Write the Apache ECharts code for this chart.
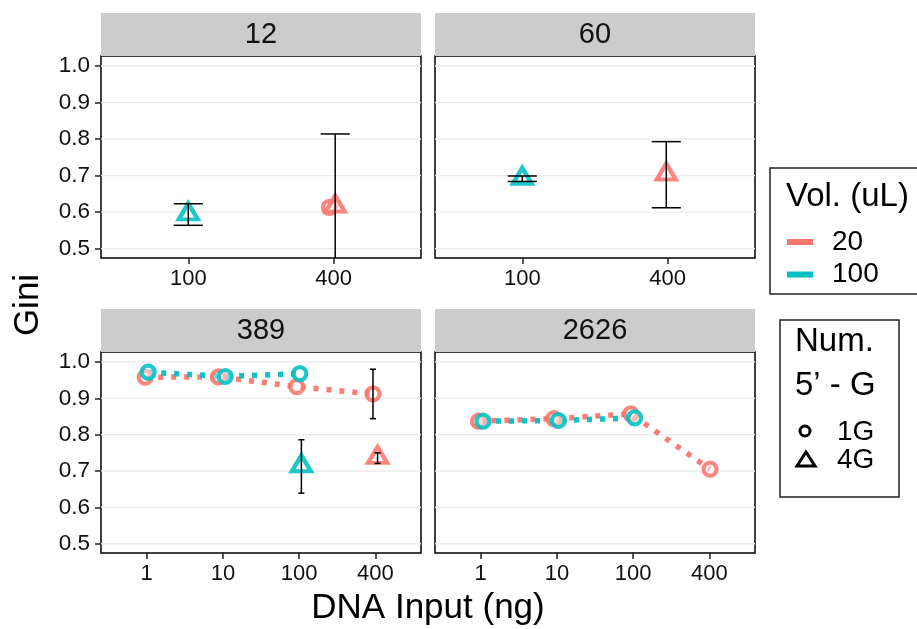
<!DOCTYPE html>
<html>
<head>
<meta charset="utf-8">
<script src="https://cdn.jsdelivr.net/npm/echarts@6/dist/echarts.min.js"></script>
<style>
  html, body { margin: 0; padding: 0; background: #ffffff; }
  #chart { width: 917px; height: 629px; }
</style>
</head>
<body>
<div id="chart"></div>
<script>
// Facet labels (number of cells) and x categories (DNA input, ng)
const facetLabels = ['12', '60', '389', '2626'];
const inputTop = ['100', '400'];
const inputBottom = ['1', '10', '100', '400'];
const giniTicks = [0.5, 0.6, 0.7, 0.8, 0.9, 1.0];
const giniRange = [0.4745, 1.0274];

// Rows: [category index, dodge, mean Gini, lower, upper]
const g12_v100_4G = [[0, 0.00, 0.594, 0.564, 0.623]];
const g12_v20_1G = [[1, -0.03, 0.613]];
const g12_v20_4G = [[1, 0.01, 0.615, 0.416, 0.814]];

const g60_v100_4G = [[0, 0.00, 0.691, 0.684, 0.699]];
const g60_v20_4G = [[1, -0.01, 0.703, 0.612, 0.793]];

const g389_v20_1G = [[0, -0.02, 0.958], [1, -0.06, 0.959], [2, -0.03, 0.932], [3, -0.03, 0.912, 0.844, 0.980]];
const g389_v100_1G = [[0, 0.02, 0.972], [1, 0.03, 0.960], [2, 0.01, 0.968]];
const g389_v100_4G = [[2, 0.03, 0.713, 0.639, 0.786]];
const g389_v20_4G = [[3, 0.03, 0.736, 0.721, 0.750]];

const g2626_v20_1G = [[0, -0.03, 0.837], [1, -0.04, 0.844], [2, -0.03, 0.857], [3, 0.01, 0.705]];
const g2626_v100_1G = [[0, 0.03, 0.837], [1, 0.02, 0.839], [2, 0.02, 0.846]];

const volColors = { '20': '#F8766D', '100': '#00BFC4' };
const FONT = '"Liberation Sans", Arial, Helvetica, sans-serif';

// Panel rectangles
const panelBoxes = [
  { left: 101, top: 56, width: 320, height: 202 },
  { left: 435, top: 56, width: 320, height: 202 },
  { left: 101, top: 352, width: 320, height: 201 },
  { left: 435, top: 352, width: 320, height: 201 }
];
const panelCats = [inputTop, inputTop, inputBottom, inputBottom];
const capWidth = [0.2, 0.2, 0.08, 0.08];
const stripHeight = 43;

const grids = panelBoxes.map(b => ({
  left: b.left, top: b.top, width: b.width, height: b.height,
  show: true, borderColor: '#000', borderWidth: 1.5, backgroundColor: '#fff'
}));

const xAxes = panelCats.map((cats, i) => ({
  type: 'value', gridIndex: i, position: 'bottom',
  min: -0.6, max: cats.length - 1 + 0.6,
  axisLine: { show: false, onZero: false },
  splitLine: { show: false },
  axisTick: {
    show: true, length: 6, customValues: cats.map((c, k) => k),
    lineStyle: { color: '#222', width: 1.5 }
  },
  axisLabel: {
    customValues: cats.map((c, k) => k),
    formatter: v => cats[Math.round(v)],
    fontSize: 22, color: '#111', fontFamily: FONT, margin: 10
  }
}));

const yAxes = panelBoxes.map((b, i) => {
  const showSide = (i === 0 || i === 2);
  return {
    type: 'value', gridIndex: i, position: 'left',
    min: giniRange[0], max: giniRange[1],
    axisLine: { show: false, onZero: false },
    splitLine: { show: false },
    axisTick: {
      show: showSide, length: 6, customValues: giniTicks,
      lineStyle: { color: '#222', width: 1.5 }
    },
    axisLabel: {
      show: showSide, customValues: giniTicks,
      formatter: v => v.toFixed(1),
      fontSize: 22.5, color: '#111', fontFamily: FONT, margin: 11
    }
  };
});

const series = [];

// Horizontal grid lines at the Gini ticks
panelBoxes.forEach((b, i) => {
  series.push({
    type: 'custom', xAxisIndex: i, yAxisIndex: i, z: 1, silent: true,
    data: giniTicks.map(v => [0, v]),
    renderItem: (params, api) => {
      const cs = params.coordSys;
      const y = api.coord([0, api.value(1)])[1];
      return {
        type: 'line',
        shape: { x1: cs.x, y1: y, x2: cs.x + cs.width, y2: y },
        style: { stroke: '#ebebeb', lineWidth: 1.3 }
      };
    }
  });
});

function points(rows) { return rows.map(r => [r[0] + r[1], r[2]]); }
function bars(rows) { return rows.filter(r => r.length > 3).map(r => [r[0] + r[1], r[3], r[4]]); }

function addLine(panel, rows, vol) {
  series.push({
    type: 'line', xAxisIndex: panel, yAxisIndex: panel, z: 2, silent: true,
    data: points(rows), showSymbol: false, symbol: 'none',
    lineStyle: { color: volColors[vol], width: 5.5, type: [5, 8], cap: 'butt', opacity: 0.95 }
  });
}

function addPoints(panel, rows, vol, guide) {
  const tri = guide === '4G';
  series.push({
    type: 'scatter', xAxisIndex: panel, yAxisIndex: panel, z: 3, silent: true,
    data: points(rows),
    symbol: tri ? 'triangle' : 'circle',
    symbolSize: tri ? [19, 16] : 13,
    symbolOffset: tri ? [0, -3] : [0, 0],
    itemStyle: {
      color: 'rgba(255,255,255,0.5)', borderColor: volColors[vol],
      borderWidth: 4.2, opacity: 0.88
    }
  });
}

function addErrors(panel, rows) {
  const data = bars(rows);
  if (!data.length) return;
  const cw = capWidth[panel];
  series.push({
    type: 'custom', xAxisIndex: panel, yAxisIndex: panel, z: 4, silent: true,
    clip: true, data: data,
    renderItem: (params, api) => {
      const x = api.value(0);
      const top = api.coord([x, api.value(2)]);
      const bot = api.coord([x, api.value(1)]);
      const half = api.coord([x + cw / 2, api.value(2)])[0] - top[0];
      const st = { stroke: '#000', lineWidth: 1.5 };
      return {
        type: 'group',
        children: [
          { type: 'line', shape: { x1: top[0], y1: top[1], x2: bot[0], y2: bot[1] }, style: st },
          { type: 'line', shape: { x1: top[0] - half, y1: top[1], x2: top[0] + half, y2: top[1] }, style: st },
          { type: 'line', shape: { x1: bot[0] - half, y1: bot[1], x2: bot[0] + half, y2: bot[1] }, style: st }
        ]
      };
    }
  });
}

// Dotted connectors for the 1G series
addLine(2, g389_v20_1G, '20');
addLine(2, g389_v100_1G, '100');
addLine(3, g2626_v20_1G, '20');
addLine(3, g2626_v100_1G, '100');

// Points
addPoints(0, g12_v100_4G, '100', '4G');
addPoints(0, g12_v20_1G, '20', '1G');
addPoints(0, g12_v20_4G, '20', '4G');
addPoints(1, g60_v100_4G, '100', '4G');
addPoints(1, g60_v20_4G, '20', '4G');
addPoints(2, g389_v20_1G, '20', '1G');
addPoints(2, g389_v100_1G, '100', '1G');
addPoints(2, g389_v100_4G, '100', '4G');
addPoints(2, g389_v20_4G, '20', '4G');
addPoints(3, g2626_v20_1G, '20', '1G');
addPoints(3, g2626_v100_1G, '100', '1G');

// Error bars
addErrors(0, g12_v100_4G);
addErrors(0, g12_v20_4G);
addErrors(1, g60_v100_4G);
addErrors(1, g60_v20_4G);
addErrors(2, g389_v20_1G);
addErrors(2, g389_v100_4G);
addErrors(2, g389_v20_4G);

// Facet strips, axis titles and the two legend boxes
const graphics = [];
panelBoxes.forEach((b, i) => {
  graphics.push({
    type: 'rect', silent: true,
    shape: { x: b.left, y: b.top - stripHeight, width: b.width, height: stripHeight },
    style: { fill: '#cccccc' }
  });
  graphics.push({
    type: 'text', silent: true,
    x: b.left + b.width / 2, y: b.top - stripHeight / 2,
    style: {
      text: facetLabels[i], fill: '#111', font: '29px ' + FONT,
      textAlign: 'center', textVerticalAlign: 'middle'
    }
  });
});

graphics.push({
  type: 'text', silent: true, x: 428, y: 608,
  style: { text: 'DNA Input (ng)', fill: '#000', font: '35px ' + FONT, textAlign: 'center', textVerticalAlign: 'middle' }
});
graphics.push({
  type: 'text', silent: true, x: 28, y: 305, rotation: Math.PI / 2,
  style: { text: 'Gini', fill: '#000', font: '35px ' + FONT, textAlign: 'center', textVerticalAlign: 'middle' }
});

// Legend: volume
const volKeys = ['20', '100'];
graphics.push({
  type: 'rect', silent: true,
  shape: { x: 770, y: 168, width: 160, height: 126 },
  style: { fill: '#fff', stroke: '#222', lineWidth: 1.5 }
});
graphics.push({
  type: 'text', silent: true, x: 786, y: 197,
  style: { text: 'Vol. (uL)', fill: '#000', font: '33px ' + FONT, textAlign: 'left', textVerticalAlign: 'middle' }
});
volKeys.forEach((k, j) => {
  const y = 242 + j * 32.5;
  graphics.push({
    type: 'line', silent: true,
    shape: { x1: 787, y1: y, x2: 813, y2: y },
    style: { stroke: volColors[k], lineWidth: 6 }
  });
  graphics.push({
    type: 'text', silent: true, x: 832, y: y,
    style: { text: k, fill: '#000', font: '28px ' + FONT, textAlign: 'left', textVerticalAlign: 'middle' }
  });
});

// Legend: number of 5' G
const guideKeys = ['1G', '4G'];
graphics.push({
  type: 'rect', silent: true,
  shape: { x: 780, y: 320, width: 119, height: 177 },
  style: { fill: '#fff', stroke: '#222', lineWidth: 1.5 }
});
graphics.push({
  type: 'text', silent: true, x: 795, y: 342,
  style: { text: 'Num.', fill: '#000', font: '33px ' + FONT, textAlign: 'left', textVerticalAlign: 'middle' }
});
graphics.push({
  type: 'text', silent: true, x: 795, y: 386,
  style: { text: '5\u2019 - G', fill: '#000', font: '33px ' + FONT, textAlign: 'left', textVerticalAlign: 'middle' }
});
graphics.push({
  type: 'circle', silent: true,
  shape: { cx: 805, cy: 431, r: 5 },
  style: { fill: 'none', stroke: '#000', lineWidth: 3 }
});
graphics.push({
  type: 'polygon', silent: true,
  shape: { points: [[806, 452], [815, 466], [797, 466]] },
  style: { fill: 'none', stroke: '#000', lineWidth: 3, lineJoin: 'miter' }
});
guideKeys.forEach((k, j) => {
  graphics.push({
    type: 'text', silent: true, x: 837, y: 432 + j * 28,
    style: { text: k, fill: '#000', font: '28px ' + FONT, textAlign: 'left', textVerticalAlign: 'middle' }
  });
});

const chart = echarts.init(document.getElementById('chart'), null, { renderer: 'canvas' });
chart.setOption({
  animation: false,
  backgroundColor: '#ffffff',
  grid: grids,
  xAxis: xAxes,
  yAxis: yAxes,
  series: series,
  graphic: { elements: graphics }
});
</script>
</body>
</html>
